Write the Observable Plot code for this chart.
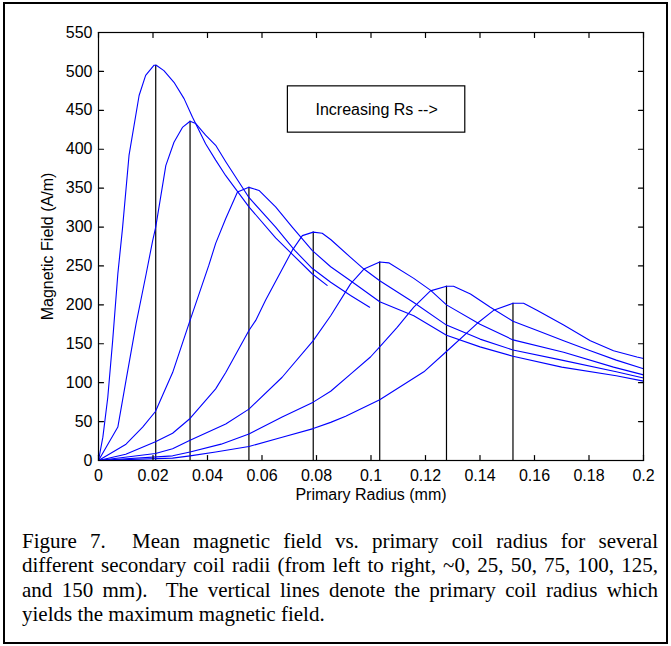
<!DOCTYPE html>
<html>
<head>
<meta charset="utf-8">
<script src="https://cdn.jsdelivr.net/npm/d3@7"></script>
<script src="https://cdn.jsdelivr.net/npm/@observablehq/plot@0.6"></script>
<style>
  html, body { margin: 0; padding: 0; background: #fff; }
  #page { position: relative; width: 671px; height: 646px; overflow: hidden; background: #fff; }
  #border { position: absolute; left: 3px; top: 2px; width: 661px; height: 638px; border: 2px solid #000; }
  #chart { position: absolute; left: 0; top: 0; }
  #caption { position: absolute; left: 22px; top: 529px; width: 636px; font-family: "Liberation Serif", "Times New Roman", serif; font-size: 21px; line-height: 24.3px; color: #000; }
  #caption .j { text-align: justify; text-align-last: justify; }
</style>
</head>
<body>
<div id="page">
  <div id="border"></div>
  <div id="chart"></div>
  <div id="caption">
    <div class="j">Figure 7.&nbsp; Mean magnetic field vs. primary coil radius for several</div>
    <div class="j">different secondary coil radii (from left to right, ~0, 25, 50, 75, 100, 125,</div>
    <div class="j">and 150&nbsp;mm).&nbsp; The vertical lines denote the primary coil radius which</div>
    <div>yields the maximum magnetic field.</div>
  </div>
</div>
<script>
// Curves: [primary radius, mean magnetic field] for each secondary radius
const rs0 = [[0,0],[0.0016,30],[0.0034,81],[0.0052,154],[0.0071,240],[0.0088,298],[0.0112,392],[0.0149,469],[0.0173,495],[0.0204,508],[0.0212,508],[0.024,501],[0.0277,486],[0.0314,465],[0.0345,441],[0.0393,407],[0.043,386],[0.0467,366],[0.0552,326],[0.065,286],[0.0784,240],[0.0839,225]];
const rs25 = [[0,0],[0.0071,43],[0.0101,103],[0.0138,176],[0.0175,240],[0.0199,283],[0.021,300],[0.0247,379],[0.0277,409],[0.0308,428],[0.0336,436],[0.0357,433],[0.0393,418],[0.043,405],[0.0467,384],[0.0552,338],[0.065,300],[0.072,270],[0.0784,247],[0.0852,229],[0.0925,212],[0.0995,197]];
const rs50 = [[0,0],[0.0101,21],[0.0162,43],[0.0209,63],[0.0272,113],[0.0336,180],[0.0405,251],[0.043,279],[0.0467,311],[0.051,345],[0.0552,351],[0.0589,347],[0.065,326],[0.0711,300],[0.0784,270],[0.0852,249],[0.0925,231],[0.1032,204],[0.1157,186],[0.1277,161],[0.14,146],[0.1521,134],[0.17,120],[0.19,109],[0.2,102]];
const rs75 = [[0,0],[0.01,8],[0.0209,24],[0.0272,35],[0.0336,54],[0.043,92],[0.0467,113],[0.0552,167],[0.0577,180],[0.0613,206],[0.0711,270],[0.0748,289],[0.0788,293.5],[0.0821,292],[0.0852,284],[0.0925,261],[0.0974,246],[0.1032,231],[0.1157,203],[0.1277,174],[0.14,156],[0.1521,142],[0.17,129],[0.19,114],[0.2,106]];
const rs100 = [[0,0],[0.0209,9],[0.0272,15],[0.0336,26],[0.0467,47],[0.0552,66],[0.0674,107],[0.0788,154],[0.0852,186],[0.0925,227],[0.0974,246],[0.1032,255],[0.1065,254],[0.1157,234],[0.1218,219],[0.1277,200],[0.14,175],[0.1521,155],[0.1707,139],[0.189,120],[0.2,110]];
const rs125 = [[0,0],[0.0272,6],[0.0336,11],[0.045,21],[0.0552,34],[0.0674,56],[0.0788,75],[0.0852,89],[0.0925,111],[0.0998,133],[0.1032,146],[0.1096,171],[0.1157,197],[0.1218,218],[0.1277,224],[0.1303,224],[0.1365,214],[0.1438,197],[0.1521,179],[0.161,167],[0.1707,154],[0.1805,141],[0.19,129],[0.2,118]];
const rs150 = [[0,0],[0.0272,3],[0.0336,6],[0.043,11],[0.0552,18],[0.0674,30],[0.0788,41],[0.0852,49],[0.0907,57],[0.1032,78],[0.1194,114],[0.128,141],[0.1389,176],[0.145,193],[0.1521,202],[0.156,202],[0.1609,193],[0.1707,174],[0.1805,154],[0.189,141],[0.1976,133],[0.2,131]];

const seriesNames = ["~0", "25", "50", "75", "100", "125", "150"];
const seriesData = [rs0, rs25, rs50, rs75, rs100, rs125, rs150];

// Primary radius at maximum field, and that maximum
const peakRadius = [0.0210, 0.0336, 0.0552, 0.0788, 0.1032, 0.1277, 0.1521];
const peakField = [508, 436, 351, 293.5, 255, 224, 202];

const xTicks = [0, 0.02, 0.04, 0.06, 0.08, 0.1, 0.12, 0.14, 0.16, 0.18, 0.2];
const xTickLabels = ["0", "0.02", "0.04", "0.06", "0.08", "0.1", "0.12", "0.14", "0.16", "0.18", "0.2"];
const yTicks = [0, 50, 100, 150, 200, 250, 300, 350, 400, 450, 500, 550];

const xLabel = "Primary Radius (mm)";
const yLabel = "Magnetic Field (A/m)";
const note = [{text: "Increasing Rs -->", x1: 0.0695, x2: 0.1346, y1: 421.3, y2: 480.8}];

const rows = seriesData.flatMap((s, i) => s.map(([x, y]) => ({series: seriesNames[i], x, y})));
const peaks = peakRadius.map((x, i) => ({x, y: peakField[i]}));

// Layout
const W = 671, H = 515, mL = 98, mR = 28, mT = 32, mB = 55;
const xDomain = [0, 0.2], yDomain = [0, 550];
const tickPx = 5;
const tx = tickPx * (xDomain[1] - xDomain[0]) / (W - mL - mR);
const ty = tickPx * (yDomain[1] - yDomain[0]) / (H - mT - mB);
// inward tick segments on all four sides of the box
const tickSegs = [
  ...xTicks.flatMap((v, i) => [{k: "b" + i, x: v, y: yDomain[0]}, {k: "b" + i, x: v, y: yDomain[0] + ty}]),
  ...xTicks.flatMap((v, i) => [{k: "t" + i, x: v, y: yDomain[1]}, {k: "t" + i, x: v, y: yDomain[1] - ty}]),
  ...yTicks.flatMap((v, i) => [{k: "l" + i, x: xDomain[0], y: v}, {k: "l" + i, x: xDomain[0] + tx, y: v}]),
  ...yTicks.flatMap((v, i) => [{k: "r" + i, x: xDomain[1], y: v}, {k: "r" + i, x: xDomain[1] - tx, y: v}])
];

const font = "'Liberation Sans', Arial, sans-serif";

const chart = Plot.plot({
  width: W,
  height: H,
  marginLeft: mL,
  marginRight: mR,
  marginTop: mT,
  marginBottom: mB,
  style: {fontFamily: font, fontSize: "16px", color: "#000", background: "transparent"},
  x: {domain: xDomain, label: null},
  y: {domain: yDomain, label: null},
  marks: [
    Plot.ruleX(peaks, {x: "x", y1: 0, y2: "y", stroke: "#000", strokeWidth: 1.2}),
    Plot.line(rows, {x: "x", y: "y", z: "series", stroke: "#0000ff", strokeWidth: 1.1, strokeLinejoin: "round"}),
    Plot.rect(note, {x1: "x1", x2: "x2", y1: "y1", y2: "y2", fill: "#fff", stroke: "#000", strokeWidth: 1.2}),
    Plot.text(note, {x: d => (d.x1 + d.x2) / 2, y: d => (d.y1 + d.y2) / 2, text: "text", fontSize: 16, fill: "#000"}),
    Plot.frame({stroke: "#000", strokeWidth: 1.2}),
    Plot.line(tickSegs, {x: "x", y: "y", z: "k", stroke: "#000", strokeWidth: 1.2}),
    Plot.axisX({anchor: "bottom", ticks: xTicks, tickSize: 0, tickPadding: 9, tickFormat: (d, i) => xTickLabels[i], label: null, fontSize: 16}),
    Plot.axisY({anchor: "left", ticks: yTicks, tickSize: 0, tickPadding: 6, label: null, fontSize: 16}),
    Plot.text([xLabel], {frameAnchor: "bottom", dy: 34, lineAnchor: "middle", textAnchor: "middle", text: d => d, fontSize: 16, fill: "#000"}),
    Plot.text([yLabel], {frameAnchor: "left", dx: -51, rotate: -90, textAnchor: "middle", lineAnchor: "middle", text: d => d, fontSize: 16, fill: "#000"})
  ]
});
document.getElementById("chart").appendChild(chart);
</script>
</body>
</html>
